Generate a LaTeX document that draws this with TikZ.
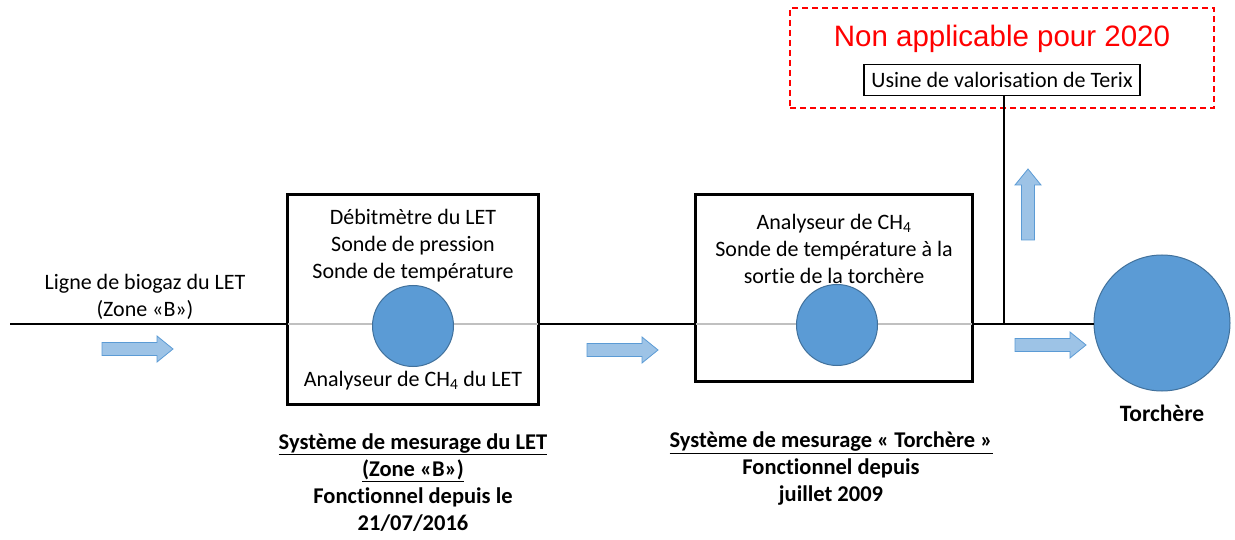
\documentclass[tikz,border=0pt]{standalone}
\usepackage{fontspec}
\setmainfont[Ligatures={NoCommon,NoRequired,NoContextual}]{Carlito}
\newfontfamily\arialf{Liberation Sans}
\definecolor{circfill}{HTML}{5B9BD5}
\definecolor{circdraw}{HTML}{41719C}
\definecolor{arrfill}{HTML}{9DC3E6}
\definecolor{arrdraw}{HTML}{5B9BD5}
\definecolor{grayline}{HTML}{C0C0C0}
\definecolor{redc}{HTML}{FF0000}
\tikzset{
  blackline/.style={line width=1.8pt, black},
  grline/.style={line width=1.5pt, grayline},
  boxst/.style={draw=black, line width=1.8pt, fill=white, inner sep=0pt},
  meter/.style={circle, draw=circdraw, line width=1pt, fill=circfill, minimum size=81pt, inner sep=0pt},
  txt/.style={font=\fontsize{22}{27}\selectfont, align=center, inner sep=0pt},
  btxt/.style={font=\fontsize{22.5}{27}\selectfont\bfseries, align=center, inner sep=0pt},
  arr/.style={fill=arrfill, draw=arrdraw, line width=0.8pt},
  rarrow/.pic={\draw[arr] (0,-6.5) -- (55,-6.5) -- (55,-13) -- (71,0) -- (55,13) -- (55,6.5) -- (0,6.5) -- cycle;}
}
\begin{document}
\begin{tikzpicture}[x=1pt,y=-1pt]
\useasboundingbox (0,0) rectangle (1235,540);
% boxes
\node[boxst, minimum width=250pt, minimum height=209pt] (box1) at (413,299.5) {};
\node[boxst, minimum width=276pt, minimum height=186pt] (box2) at (834,288) {};
% red dashed frame
\node[draw=redc, dashed, dash pattern=on 6pt off 4pt, line width=1.5pt, minimum width=424pt, minimum height=100pt, inner sep=0pt] (nonapp) at (1002,58) {};
\node[font=\arialf\fontsize{29.5}{30}\selectfont, text=redc, inner sep=0pt] (nonapptxt) at (1002,39) {Non applicable pour 2020};
\node[draw=black, line width=1.8pt, fill=white, font=\fontsize{22}{22}\selectfont, inner sep=2pt, minimum height=31pt, minimum width=276pt] (usine) at (1002,80) {Usine de valorisation de Terix};
% coordinates
\coordinate (start) at (10,324);
\coordinate (tee) at (1004,324);
\node[meter, minimum size=136pt] (torch) at (1162,323) {};
% lines
\draw[blackline] (start) -- (box1.west |- start);
\draw[grline] (box1.west |- start) -- (box1.east |- start);
\draw[blackline] (box1.east |- start) -- (box2.west |- start);
\draw[grline] (box2.west |- start) -- (box2.east |- start);
\draw[blackline] (box2.east |- start) -- (torch.west |- start);
\draw[blackline] (tee) -- (usine.south -| tee);
% redraw box borders over lines
\draw[draw=black, line width=1.8pt] (box1.north west) rectangle (box1.south east);
\draw[draw=black, line width=1.8pt] (box2.north west) rectangle (box2.south east);
% meters
\node[meter] (m1) at (413,326) {};
\node[meter] (m2) at (837,325) {};
% texts
\node[txt] (inlbl) at (145,297) {Ligne de biogaz du LET\\(Zone «B»)};
\node[txt] (b1txt) at (413,246) {Débitmètre du LET\\Sonde de pression\\Sonde de température};
\node[txt] (b1bot) at (413,381) {Analyseur de CH\textsubscript{4} du LET};
\node[txt] (b2txt) at (834,249) {Analyseur de CH\textsubscript{4}\\Sonde de température à la\\sortie de la torchère};
\node[btxt] (s1) at (413,482.5) {\underline{Système de mesurage du LET}\\\underline{(Zone «B»)}\\Fonctionnel depuis le\\21/07/2016};
\node[btxt] (s2) at (831,469) {\underline{Système de mesurage « Torchère »}\\Fonctionnel depuis\\juillet 2009};
\node[btxt, font=\fontsize{23.5}{27}\selectfont\bfseries] (torchlbl) at (1162,413) {Torchère};
% flow arrows
\pic at (102,349) {rarrow};
\pic at (587,350) {rarrow};
\pic at (1015,345) {rarrow};
\pic[rotate=90] at (1028,240) {rarrow};
\end{tikzpicture}
\end{document}
